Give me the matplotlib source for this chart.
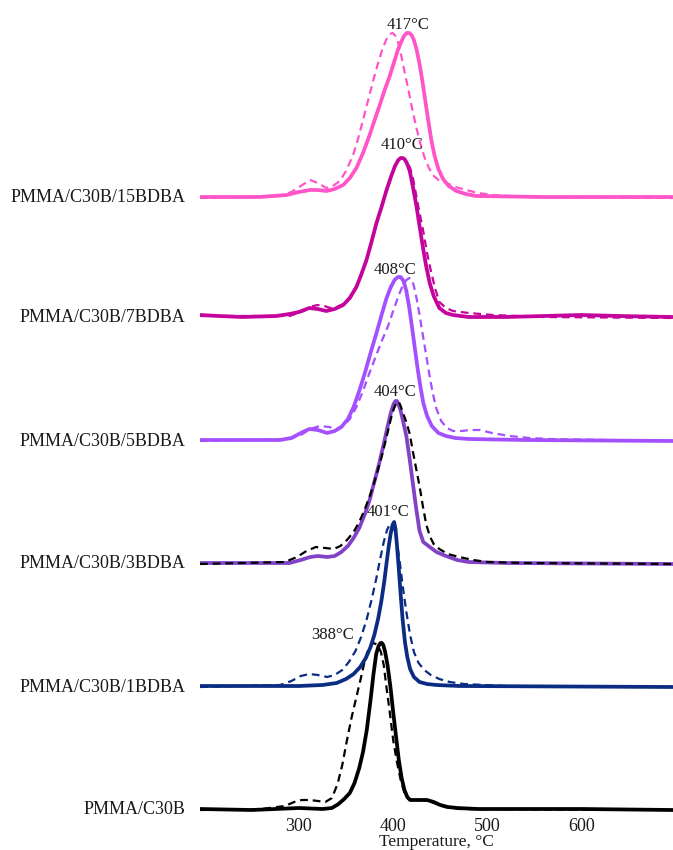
import matplotlib
matplotlib.use("Agg")
import matplotlib.pyplot as plt

plt.rcParams['font.family'] = ['Liberation Serif', 'DejaVu Serif']

# Sample names (bottom to top) and the labelled DTG peak temperatures
samples = ["PMMA/C30B", "PMMA/C30B/1BDBA", "PMMA/C30B/3BDBA",
           "PMMA/C30B/5BDBA", "PMMA/C30B/7BDBA", "PMMA/C30B/15BDBA"]
peak_temps = [388, 401, 404, 408, 410, 417]

# Vertical stacking offset of each trace (baseline level)
offsets = [0.0, 1.23, 2.46, 3.69, 4.92, 6.12]

# DTG traces: temperature (°C) and normalised derivative signal
t_c30b_solid = [195, 250, 300, 325, 335, 342, 348, 354, 359, 364, 368, 372, 376, 379, 382, 384.5,
                386.5, 388, 389.5, 391.5, 394, 397, 400, 403, 406, 409, 412, 415, 418, 422, 428,
                436, 443, 450, 458, 468, 490, 520, 600, 697]
y_c30b_solid = [0.01, 0.0, 0.02, 0.01, 0.02, 0.06, 0.11, 0.17, 0.27, 0.42, 0.58, 0.80, 1.10, 1.35,
                1.56, 1.64, 1.67, 1.67, 1.65, 1.58, 1.45, 1.24, 0.98, 0.74, 0.50, 0.32, 0.20, 0.13,
                0.10, 0.10, 0.10, 0.10, 0.08, 0.05, 0.03, 0.02, 0.01, 0.01, 0.01, 0.0]
t_c30b_dash = [195, 260, 285, 295, 303, 312, 320, 328, 335, 341, 346, 351, 356, 361, 366, 370,
               373.5, 376.5, 379, 381.5, 384, 387, 390, 393, 396.5, 400, 404, 408, 412, 416, 422,
               430, 438, 446, 455, 470, 697]
y_c30b_dash = [0.0, 0.01, 0.04, 0.08, 0.10, 0.10, 0.09, 0.08, 0.12, 0.26, 0.45, 0.70, 0.93, 1.13,
               1.33, 1.50, 1.60, 1.65, 1.67, 1.66, 1.64, 1.58, 1.45, 1.22, 0.97, 0.70, 0.48, 0.30,
               0.17, 0.11, 0.10, 0.10, 0.09, 0.06, 0.03, 0.01, 0.0]

t_1_solid = [195, 300, 325, 340, 350, 358, 365, 371, 376, 380, 384, 387.5, 390.5, 393, 395.5, 397.5,
             399.3, 401, 402.5, 404, 406, 408, 410, 412.5, 415, 418, 422, 428, 436, 446, 470, 697]
y_1_solid = [0.01, 0.01, 0.02, 0.04, 0.08, 0.13, 0.20, 0.29, 0.40, 0.52, 0.68, 0.86, 1.05, 1.24, 1.42,
             1.54, 1.62, 1.65, 1.58, 1.42, 1.18, 0.92, 0.68, 0.45, 0.30, 0.18, 0.10, 0.05, 0.03, 0.02,
             0.01, 0.0]
t_1_dash = [195, 280, 292, 302, 311, 320, 330, 338, 346, 353, 360, 366, 372, 377, 382, 386, 390,
            393.5, 396.5, 399, 401.5, 404, 407, 410, 414, 418, 422, 427, 433, 440, 449, 460, 475, 520, 697]
y_1_dash = [0.0, 0.02, 0.06, 0.11, 0.13, 0.12, 0.10, 0.12, 0.17, 0.25, 0.36, 0.50, 0.68, 0.87, 1.08,
            1.27, 1.45, 1.57, 1.63, 1.63, 1.57, 1.45, 1.25, 1.02, 0.75, 0.52, 0.35, 0.24, 0.17, 0.12,
            0.08, 0.05, 0.03, 0.01, 0.0]

t_3_solid = [195, 290, 302, 312, 320, 330, 338, 345, 352, 358, 364, 370, 375, 380, 385, 390, 394,
             397.5, 400.5, 402.5, 404, 405.5, 407.5, 410, 414, 417.5, 421, 424.5, 428, 432, 438.8,
             446, 456, 468, 480, 520, 697]
y_3_solid = [0.01, 0.01, 0.04, 0.07, 0.08, 0.07, 0.08, 0.12, 0.18, 0.26, 0.36, 0.50, 0.64, 0.82, 1.00,
             1.20, 1.37, 1.51, 1.60, 1.63, 1.63, 1.60, 1.55, 1.45, 1.28, 1.05, 0.80, 0.55, 0.33, 0.22,
             0.17, 0.12, 0.08, 0.04, 0.02, 0.01, 0.0]
t_3_dash = [195, 285, 298, 308, 318, 328, 337, 344, 351, 358, 364, 370, 376, 382, 388, 393, 397.5,
            401, 404, 406, 408, 410, 414, 417.6, 421, 424.5, 428, 431.5, 435, 438.8, 443, 449, 458,
            470, 485, 500, 540, 697]
y_3_dash = [0.0, 0.02, 0.07, 0.13, 0.17, 0.16, 0.15, 0.18, 0.24, 0.32, 0.42, 0.55, 0.70, 0.88, 1.08,
            1.27, 1.45, 1.56, 1.62, 1.62, 1.58, 1.52, 1.42, 1.30, 1.12, 0.95, 0.78, 0.58, 0.40, 0.28,
            0.20, 0.15, 0.10, 0.07, 0.04, 0.02, 0.01, 0.0]

t_5_solid = [195, 280, 292, 302, 311, 320, 330, 338, 345, 352, 358, 364, 370, 376, 382, 388, 393,
             397.5, 401.5, 405, 408, 411, 414, 417, 420, 423, 426, 429, 432, 436, 441, 448, 456, 466,
             480, 540, 697]
y_5_solid = [0.01, 0.01, 0.03, 0.08, 0.12, 0.11, 0.08, 0.10, 0.14, 0.22, 0.34, 0.50, 0.68, 0.88, 1.07,
             1.27, 1.43, 1.54, 1.61, 1.64, 1.64, 1.60, 1.50, 1.34, 1.14, 0.93, 0.72, 0.54, 0.38, 0.25,
             0.15, 0.08, 0.05, 0.03, 0.02, 0.01, 0.0]
t_5_dash = [195, 290, 302, 312, 322, 332, 340, 347, 354, 361, 368, 374, 380.5, 387, 394.6, 400, 406,
            410, 414, 417, 419.5, 422, 425, 428, 431.5, 435, 438.5, 442, 446, 451, 457, 463.5, 472,
            482, 492, 505, 523.5, 545, 566, 697]
y_5_dash = [0.0, 0.02, 0.06, 0.12, 0.15, 0.14, 0.12, 0.15, 0.22, 0.34, 0.50, 0.66, 0.82, 0.98, 1.15,
            1.30, 1.46, 1.55, 1.61, 1.63, 1.62, 1.55, 1.42, 1.26, 1.06, 0.86, 0.66, 0.48, 0.32, 0.20,
            0.13, 0.10, 0.10, 0.11, 0.11, 0.08, 0.05, 0.03, 0.02, 0.0]

t_7_solid = [195, 215, 240, 276, 290, 300, 311, 320, 329, 338, 347, 354, 361, 366, 371.7, 377, 382.3,
             388, 393, 398, 402, 405.5, 408, 410, 412, 414.5, 417.6, 421, 424.7, 428, 431.7, 435,
             438.8, 443, 449, 456, 463.5, 480, 520, 560, 600, 640, 697]
y_7_solid = [0.03, 0.02, 0.01, 0.02, 0.04, 0.06, 0.10, 0.09, 0.07, 0.09, 0.13, 0.20, 0.31, 0.43, 0.58,
             0.76, 0.95, 1.12, 1.28, 1.42, 1.52, 1.58, 1.60, 1.60, 1.59, 1.55, 1.47, 1.31, 1.12, 0.92,
             0.70, 0.52, 0.35, 0.22, 0.10, 0.05, 0.03, 0.01, 0.01, 0.02, 0.03, 0.02, 0.01]
t_7_dash = [195, 290, 305, 312, 319.5, 327, 333, 340, 347, 354, 361, 366, 371.7, 377, 382.3, 388,
            393, 398, 402, 406, 409, 412, 415, 418, 421, 424, 427, 431.7, 436, 440.5, 445, 449, 456,
            463.5, 480, 505.8, 560, 697]
y_7_dash = [0.02, 0.02, 0.07, 0.11, 0.13, 0.12, 0.10, 0.11, 0.14, 0.21, 0.32, 0.44, 0.59, 0.77, 0.96,
            1.13, 1.29, 1.43, 1.53, 1.58, 1.60, 1.59, 1.56, 1.50, 1.40, 1.25, 1.10, 0.88, 0.65, 0.45,
            0.28, 0.16, 0.10, 0.07, 0.05, 0.03, 0.01, 0.0]

t_15_solid = [195, 258.7, 287, 300, 311.7, 320, 329, 338, 347, 354, 361, 368, 375, 380, 385.8, 391,
              396.4, 401, 405, 408.5, 411.5, 414.5, 417, 419.5, 422, 425, 428, 431, 434, 437, 440.5,
              444, 448, 453, 459, 467, 477, 488, 560, 697]
y_15_solid = [0.01, 0.01, 0.03, 0.06, 0.08, 0.08, 0.07, 0.09, 0.13, 0.20, 0.30, 0.45, 0.63, 0.77, 0.93,
              1.08, 1.22, 1.36, 1.48, 1.56, 1.62, 1.65, 1.65, 1.63, 1.58, 1.48, 1.34, 1.17, 0.98, 0.79,
              0.58, 0.42, 0.29, 0.19, 0.12, 0.07, 0.04, 0.02, 0.01, 0.01]
t_15_dash = [195, 280, 292, 302, 311.7, 320, 329, 336, 343.4, 350, 357.5, 363, 368, 373.5, 378.7, 384,
             389, 393, 396.5, 399.5, 402.5, 405, 408, 411.5, 415.8, 420, 424.7, 429, 433.5, 438, 442,
             448, 456.5, 466, 477.6, 490, 506, 540, 697]
y_15_dash = [0.0, 0.02, 0.06, 0.12, 0.18, 0.15, 0.10, 0.12, 0.17, 0.27, 0.43, 0.60, 0.78, 0.98, 1.17,
             1.35, 1.50, 1.59, 1.64, 1.65, 1.62, 1.56, 1.45, 1.29, 1.10, 0.90, 0.70, 0.54, 0.40, 0.30,
             0.23, 0.18, 0.15, 0.11, 0.08, 0.05, 0.03, 0.01, 0.0]

solid_t = [t_c30b_solid, t_1_solid, t_3_solid, t_5_solid, t_7_solid, t_15_solid]
solid_y = [y_c30b_solid, y_1_solid, y_3_solid, y_5_solid, y_7_solid, y_15_solid]
dash_t = [t_c30b_dash, t_1_dash, t_3_dash, t_5_dash, t_7_dash, t_15_dash]
dash_y = [y_c30b_dash, y_1_dash, y_3_dash, y_5_dash, y_7_dash, y_15_dash]

solid_colors = ["#000000", "#0A2C82", "#8242C6", "#A450FF", "#C4049C", "#FF55C8"]
dash_colors = ["#000000", "#0A2C82", "#000000", "#A450FF", "#C4049C", "#FF55C8"]

# Peak-label anchor (temperature, height above the trace baseline)
label_pos = [(336, 1.75), (395, 1.75), (401.5, 1.72), (401.5, 1.71), (409, 1.73), (416, 1.73)]

fig = plt.figure(figsize=(6.73, 8.5), dpi=100)
ax = fig.add_axes([200 / 673, 35 / 850, 473 / 673, 815 / 850])

for i in range(len(samples)):
    base = offsets[i]
    ax.plot(solid_t[i], [v + base for v in solid_y[i]], color=solid_colors[i],
            lw=2.7, solid_capstyle='round', solid_joinstyle='round', zorder=3 + i)
    ax.plot(dash_t[i], [v + base for v in dash_y[i]], color=dash_colors[i],
            lw=1.6, ls=(0, (3.5, 2.2)), zorder=3.5 + i)
    lx, ly = label_pos[i]
    ax.text(lx, base + ly, f"{peak_temps[i]}°C", ha='center', va='center',
            fontsize=12, color='#1a1a1a', zorder=20)
    # sample name to the left of its trace
    ax.annotate(samples[i], xy=(0, base), xycoords=('axes fraction', 'data'),
                xytext=(-10.5, 0), textcoords='offset points',
                ha='right', va='center', fontsize=13, color='#1a1a1a',
                annotation_clip=False)

ax.set_xlim(195, 697)
ax.set_ylim(-0.05, 8.10)

ax.set_xticks([300, 400, 500, 600])
ax.tick_params(axis='x', length=0, labelsize=13, pad=2.5, labelcolor='#1a1a1a')
ax.set_yticks([])
for s in ax.spines.values():
    s.set_visible(False)
ax.set_xlabel("Temperature, °C", fontsize=12.5, labelpad=-1, color='#1a1a1a')

fig.savefig("out.png", dpi=100)
